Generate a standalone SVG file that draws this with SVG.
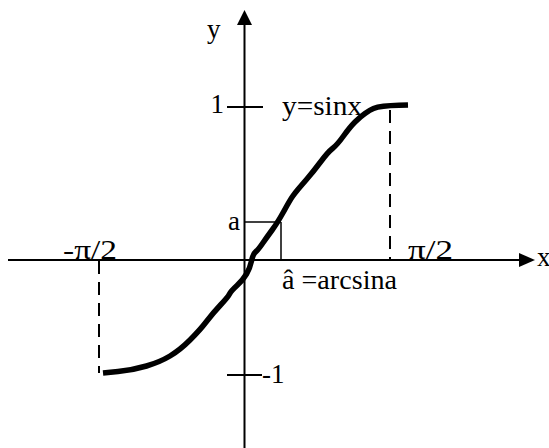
<svg xmlns="http://www.w3.org/2000/svg" width="549" height="448" viewBox="0 0 549 448">
  <style>
    .axis { stroke: #000; stroke-width: 2; fill: none; }
    .thin { stroke: #000; stroke-width: 1.5; fill: none; }
    .dash { stroke: #000; stroke-width: 2; stroke-dasharray: 13 8; fill: none; }
    .curve { stroke: #000; stroke-width: 5.5; fill: none; stroke-linejoin: round; stroke-linecap: butt; }
    text { font-family: "Liberation Serif", "Times New Roman", serif; font-size: 27px; fill: #000; }
  </style>
  <rect width="549" height="448" fill="#fff"/>
  <g id="connectors">
    <line class="axis" x1="8" y1="260" x2="521" y2="260"/>
    <polygon points="535,260 519,253 519,267" fill="#000"/>
    <line class="axis" x1="244.5" y1="24" x2="244.5" y2="448"/>
    <polygon points="244.5,10 237,25 252,25" fill="#000"/>
    <line class="axis" x1="227" y1="107" x2="263" y2="107"/>
    <line class="axis" x1="227" y1="375" x2="262" y2="375"/>
    <line class="thin" x1="244.5" y1="222" x2="281" y2="222"/>
    <line class="thin" x1="281" y1="222" x2="281" y2="260"/>
    <line class="dash" x1="99" y1="261" x2="99" y2="373"/>
    <line class="dash" x1="390" y1="110" x2="390" y2="259"/>
  </g>
  <g id="curve">
    <path class="curve" d="M103,373 L118,371.5 Q133,370 146.5,366 Q160,362 170,356 Q180,350 190,340 Q200,330 206.5,321.5 Q213,313 220.5,305 Q228,297 229.5,294 Q231,291 237,285.5 Q243,280 246.5,274 Q250,268 251.5,261 Q253,254 255.5,252 Q258,250 262.5,243.5 Q267,237 272.5,229.5 Q278,222 284,211 Q290,200 292.5,196.5 Q295,193 297.5,190 Q300,187 306.5,179.5 Q313,172 320.5,162 Q328,152 332.5,148.5 Q337,145 343.5,136 Q350,127 355,122 Q360,117 365,113.5 Q370,110 373.5,108.5 Q377,107 383.5,106.25 Q390,105.5 399,105.25 L408,105"/>
  </g>
  <g id="labels">
    <text x="207" y="38">y</text>
    <text x="537" y="266">x</text>
    <text x="224" y="113" text-anchor="end">1</text>
    <text x="282" y="115" textLength="80" lengthAdjust="spacingAndGlyphs">y=sinx</text>
    <text x="240" y="230" text-anchor="end">a</text>
    <text x="63" y="259" textLength="54" lengthAdjust="spacingAndGlyphs">-π/2</text>
    <text x="408" y="259" textLength="45" lengthAdjust="spacingAndGlyphs">π/2</text>
    <text x="282" y="289" textLength="115" lengthAdjust="spacingAndGlyphs">â =arcsina</text>
    <text x="262" y="383">-1</text>
  </g>
</svg>
